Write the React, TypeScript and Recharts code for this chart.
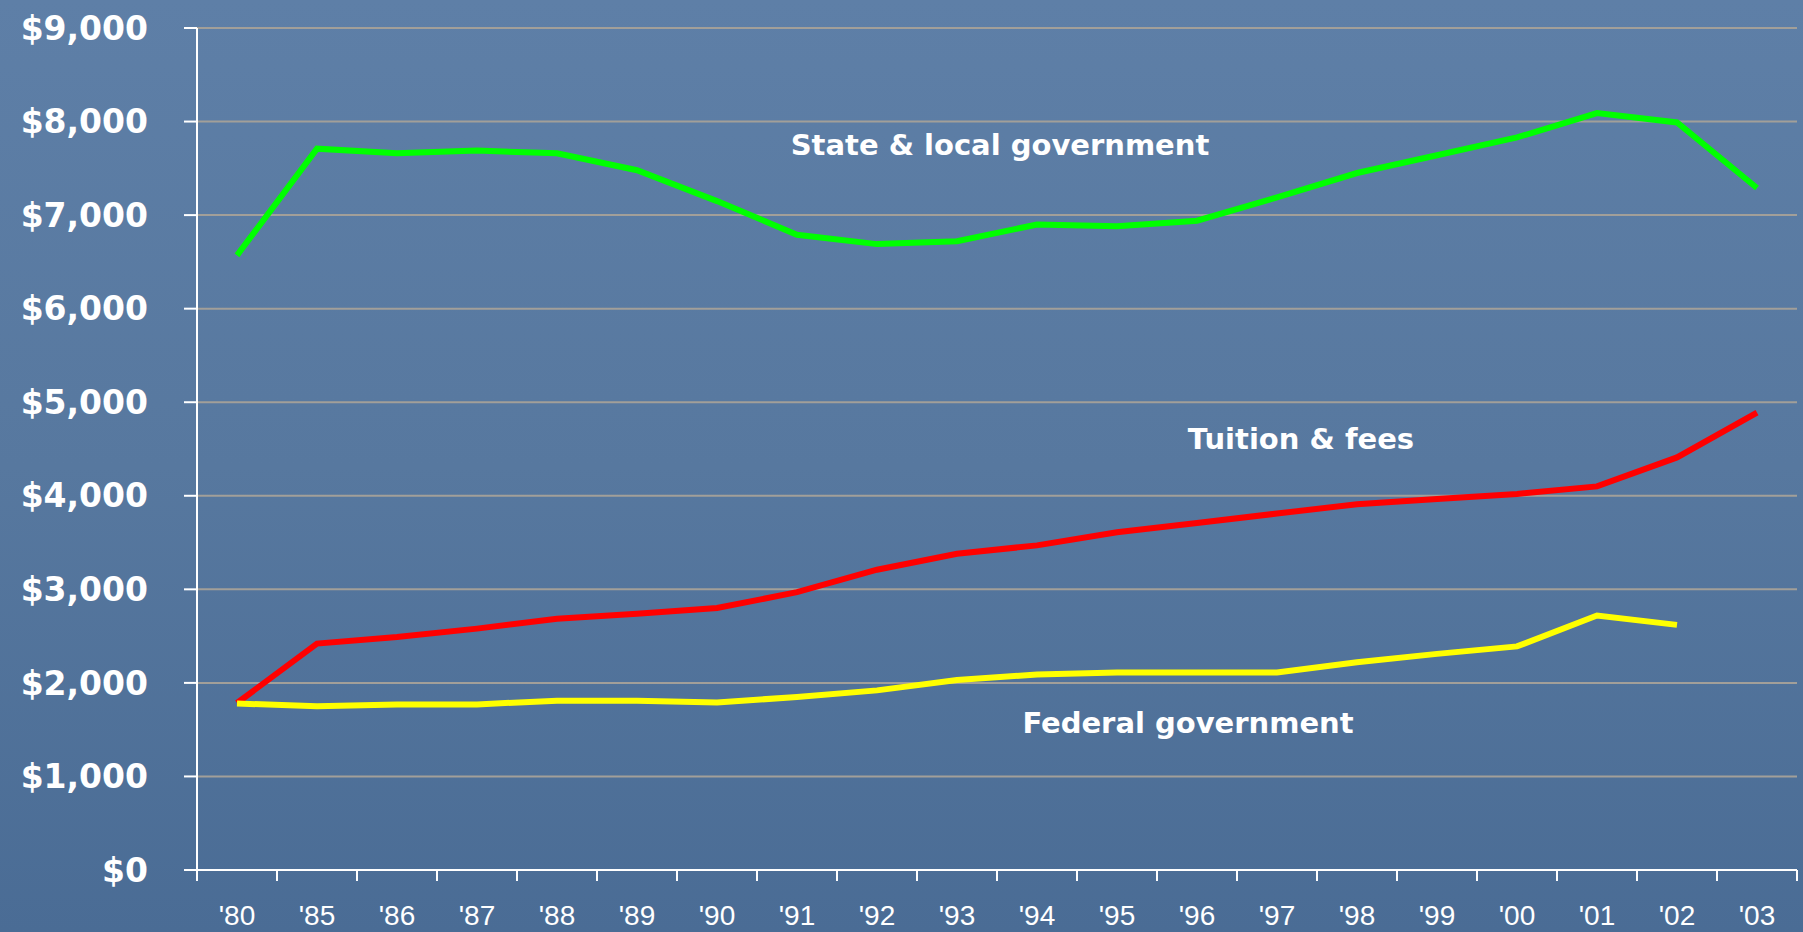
import { LineChart, Line, XAxis, YAxis, CartesianGrid } from "recharts";

const YEARS = ["'80", "'85", "'86", "'87", "'88", "'89", "'90", "'91", "'92", "'93", "'94", "'95", "'96", "'97", "'98", "'99", "'00", "'01", "'02", "'03"];
const STATE_LOCAL = [6570, 7710, 7660, 7690, 7660, 7480, 7150, 6790, 6690, 6720, 6900, 6880, 6940, 7190, 7450, 7640, 7830, 8090, 7990, 7290];
const TUITION = [1785, 2420, 2490, 2580, 2685, 2740, 2800, 2970, 3210, 3380, 3470, 3610, 3710, 3810, 3910, 3965, 4020, 4100, 4410, 4890];
const FEDERAL = [1780, 1750, 1770, 1770, 1810, 1810, 1790, 1850, 1920, 2030, 2090, 2110, 2110, 2110, 2220, 2310, 2390, 2720, 2620, null];
const Y_TICKS = [0, 1000, 2000, 3000, 4000, 5000, 6000, 7000, 8000, 9000];

const data = YEARS.map((year, i) => ({
  year,
  state: STATE_LOCAL[i],
  tuition: TUITION[i],
  federal: FEDERAL[i],
}));

const W = 1803;
const H = 932;
const MARGIN = { top: 28, right: 6, bottom: 2, left: 0 };
const Y_AXIS_W = 197;
const HALF_BAND = (W - MARGIN.left - MARGIN.right - Y_AXIS_W) / YEARS.length / 2;

const labelStyle = {
  position: "absolute" as const,
  transform: "translate(-50%, -50%)",
  color: "#ffffff",
  fontFamily: "'DejaVu Sans', sans-serif",
  fontWeight: 700,
  fontSize: 29,
  whiteSpace: "nowrap" as const,
};

// tick marks sit between the categories, labels in the middle
function YearTick(props: any) {
  const { x, y, payload, index } = props;
  const last = index === YEARS.length - 1;
  return (
    <g>
      <line x1={x - HALF_BAND} x2={x - HALF_BAND} y1={y} y2={y + 11} stroke="#ffffff" strokeWidth={2} />
      {last && <line x1={x + HALF_BAND} x2={x + HALF_BAND} y1={y} y2={y + 11} stroke="#ffffff" strokeWidth={2} />}
      <text
        x={x}
        y={y + 35}
        dy="0.71em"
        textAnchor="middle"
        fill="#ffffff"
        fontSize={28}
        fontFamily="'Liberation Sans', Arial, sans-serif"
      >
        {payload.value}
      </text>
    </g>
  );
}

export default function App() {
  return (
    <div
      style={{
        position: "absolute",
        left: 0,
        top: 0,
        width: W,
        height: H,
        background: "linear-gradient(180deg, #5e7fa7 0%, #57789f 50%, #4a6c95 100%)",
        overflow: "hidden",
      }}
    >
      <LineChart width={W} height={H} data={data} margin={MARGIN}>
        <CartesianGrid vertical={false} stroke="#a29f99" strokeWidth={2} />
        <XAxis
          dataKey="year"
          height={60}
          interval={0}
          padding={{ left: HALF_BAND, right: HALF_BAND }}
          axisLine={{ stroke: "#ffffff", strokeWidth: 2 }}
          tickLine={false}
          tickSize={0}
          tickMargin={0}
          tick={<YearTick />}
        />
        <YAxis
          domain={[0, 9000]}
          ticks={Y_TICKS}
          interval={0}
          width={Y_AXIS_W}
          tickSize={13}
          tickMargin={36}
          axisLine={{ stroke: "#ffffff", strokeWidth: 2 }}
          tickLine={{ stroke: "#ffffff", strokeWidth: 2 }}
          tick={{ fill: "#ffffff", fontSize: 33, fontWeight: 700, fontFamily: "'DejaVu Sans', sans-serif" }}
          tickFormatter={(v: number) => "$" + v.toLocaleString("en-US")}
        />
        <Line type="linear" dataKey="state" stroke="#00ff00" strokeWidth={6} dot={false} isAnimationActive={false} />
        <Line type="linear" dataKey="tuition" stroke="#ff0000" strokeWidth={6} dot={false} isAnimationActive={false} />
        <Line type="linear" dataKey="federal" stroke="#ffff00" strokeWidth={6} dot={false} isAnimationActive={false} />
      </LineChart>
      <div style={{ ...labelStyle, left: 1000, top: 145 }}>State &amp; local government</div>
      <div style={{ ...labelStyle, left: 1301, top: 439 }}>Tuition &amp; fees</div>
      <div style={{ ...labelStyle, left: 1188, top: 723 }}>Federal government</div>
    </div>
  );
}
